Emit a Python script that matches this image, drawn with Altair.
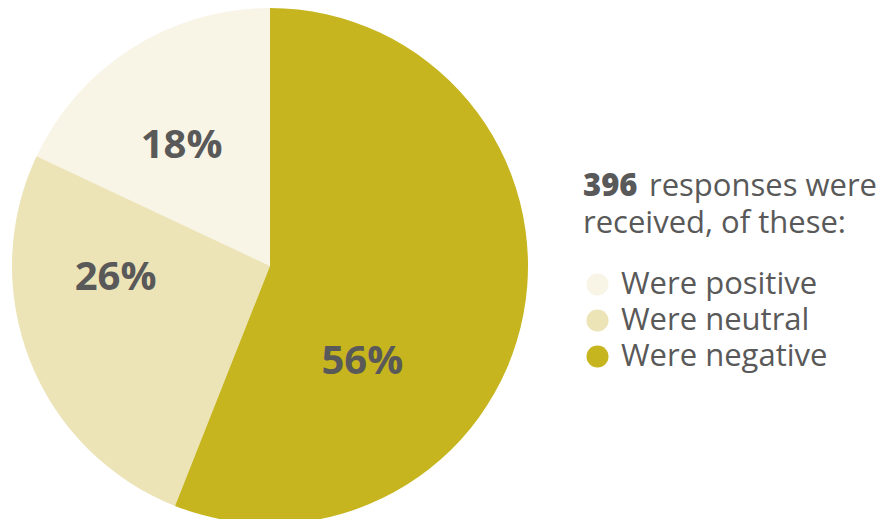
import altair as alt
import pandas as pd

categories = ["Were positive", "Were neutral", "Were negative"]
values = [18, 26, 56]
labels = ["18%", "26%", "56%"]
stack_order = [3, 2, 1]
colors = ["#f8f4e6", "#ece3b6", "#c6b51e"]

total_responses = "396"
heading_rest = "responses were"
heading_line2 = "received, of these:"

df = pd.DataFrame({"cat": categories, "value": values, "label": labels, "ord": stack_order})

FONT = "Open Sans"
TXT = "#595959"
CX, CY, R = 262, 258, 258
FS = 31

color = alt.Color(
    "cat:N",
    scale=alt.Scale(domain=categories, range=colors),
    sort=categories,
    legend=alt.Legend(
        orient="none", legendX=574, legendY=261, title=None,
        symbolType="circle", symbolSize=484, symbolStrokeWidth=0,
        labelFontSize=FS, labelFont=FONT, labelColor=TXT, labelLimit=0,
        labelOffset=8, rowPadding=4, padding=0,
    ),
)

base = alt.Chart(df)
pie = base.mark_arc(radius=R).encode(
    theta=alt.Theta("value:Q", stack=True),
    color=color,
    order=alt.Order("ord:Q"),
    x=alt.value(CX), y=alt.value(CY),
)

offsets = {"18%": (-8, 7), "26%": (-15, -43), "56%": (-55, 68)}
text_layers = []
for lab, (ddx, ddy) in offsets.items():
    text_layers.append(
        base.transform_window(cum="sum(value)", sort=[alt.SortField("ord")])
        .transform_calculate(mid="datum.cum - datum.value / 2")
        .transform_filter(alt.datum.label == lab)
        .mark_text(radius=150, dx=ddx, dy=ddy, font=FONT, fontWeight="bold",
                   fontSize=40, color=TXT, align="center", baseline="middle")
        .encode(theta=alt.Theta("mid:Q", stack=None), text="label:N",
                x=alt.value(CX), y=alt.value(CY))
    )

h1 = alt.Chart(pd.DataFrame({"t": [total_responses]})).mark_text(
    font=FONT, fontWeight=800, fontSize=FS, color=TXT, align="left", baseline="alphabetic"
).encode(text="t:N", x=alt.value(575), y=alt.value(188))
h2 = alt.Chart(pd.DataFrame({"t": [heading_rest]})).mark_text(
    font=FONT, fontSize=FS, color=TXT, align="left", baseline="alphabetic"
).encode(text="t:N", x=alt.value(641), y=alt.value(188))
h3 = alt.Chart(pd.DataFrame({"t": [heading_line2]})).mark_text(
    font=FONT, fontSize=FS, color=TXT, align="left", baseline="alphabetic"
).encode(text="t:N", x=alt.value(575), y=alt.value(225))

chart = alt.layer(pie, *text_layers, h1, h2, h3).properties(
    width=870, height=511, autosize=alt.AutoSizeParams(type="none"), padding=0
).configure_view(stroke=None)

chart.save("out.html", embed_options={"renderer": "svg", "actions": False})
